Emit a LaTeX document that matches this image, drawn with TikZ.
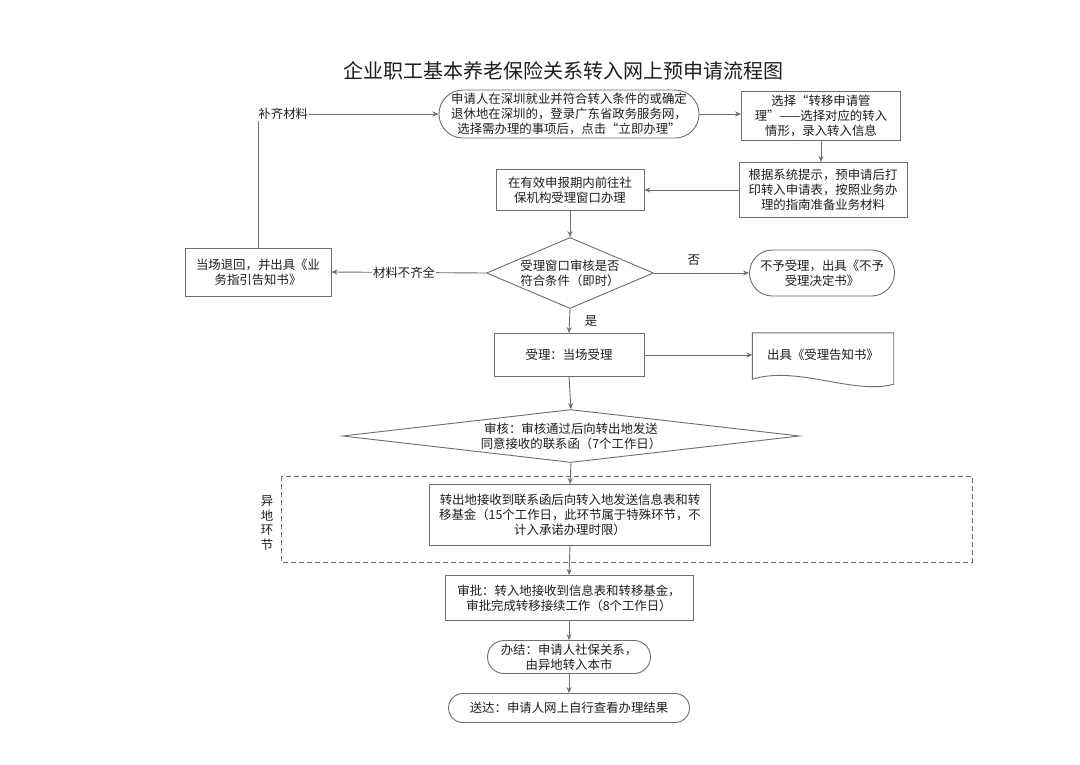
\documentclass[tikz,border=0pt]{standalone}
\usepackage{fontspec}
\setmainfont{Noto Sans CJK SC}
\usetikzlibrary{shapes.geometric,shapes.misc,arrows.meta}
\definecolor{ln}{RGB}{110,110,110}
\definecolor{tx}{RGB}{30,30,30}
\tikzset{
  base/.style={draw=ln, line width=0.9pt, text=tx, align=center, inner sep=0pt, font=\fontsize{12.4}{15}\selectfont},
  boxnode/.style={base, rectangle},
  pillnode/.style={base, rounded rectangle},
  docnode/.style={text=tx, align=center, inner sep=0pt, font=\fontsize{12.4}{15}\selectfont},
  conn/.style={draw=ln, line width=0.9pt, -{Stealth[length=6pt,width=5pt]}},
  lbl/.style={text=tx, font=\fontsize{12.4}{14}\selectfont, inner sep=1pt}
}
\begin{document}
\begin{tikzpicture}[x=1pt,y=-1pt]
\useasboundingbox[fill=white] (0,0) rectangle (1080,764);
\node[text=tx, font=\fontsize{20}{23}\selectfont] (title) at (563,71) {企业职工基本养老保险关系转入网上预申请流程图};

\node[pillnode, minimum width=256pt, minimum height=48pt] (A) at (569,114) {申请人在深圳就业并符合转入条件的或确定\\退休地在深圳的，登录广东省政务服务网，\\选择需办理的事项后，点击“立即办理”};
\node[boxnode, minimum width=159pt, minimum height=49pt] (B) at (821,116) {选择“转移申请管\\理”——选择对应的转入\\情形，录入转入信息};
\node[boxnode, minimum width=168pt, minimum height=55pt] (C) at (823,190) {根据系统提示，预申请后打\\印转入申请表，按照业务办\\理的指南准备业务材料};
\node[boxnode, minimum width=148pt, minimum height=41pt] (D) at (570,190) {在有效申报期内前往社\\保机构受理窗口办理};
\node[base, diamond, minimum width=167pt, minimum height=71pt, inner sep=0pt] (E) at (570,273) {};
\node[docnode] at (E.center) {受理窗口审核是否\\符合条件（即时）};
\node[boxnode, minimum width=146pt, minimum height=48pt] (F) at (258,272) {当场退回，并出具《业\\务指引告知书》};
\node[pillnode, minimum width=145pt, minimum height=46pt] (G) at (822,273) {不予受理，出具《不予\\受理决定书》};
\node[boxnode, minimum width=150pt, minimum height=43pt] (H) at (569,355) {受理：当场受理};
\node[docnode, minimum width=141pt, minimum height=44pt] (I) at (823,355) {出具《受理告知书》};
\draw[ln, line width=0.9pt] (I.south west) -- (I.north west) -- (I.north east) -- ([yshift=-7pt]I.south east)
  .. controls ([xshift=-40pt,yshift=-18pt]I.south east) and ([xshift=45pt,yshift=12pt]I.south west) .. ([yshift=-2pt]I.south west) -- cycle;
\node[base, diamond, minimum width=457pt, minimum height=53pt] (J) at (571,436) {};
\node[docnode] at (J.center) {审核：审核通过后向转出地发送\\同意接收的联系函（7个工作日）};
\draw[ln, line width=0.8pt, dashed, dash pattern=on 5pt off 3pt] (281,476) rectangle (972,562);
\node[text=tx, align=center, font=\fontsize{12.4}{14.5}\selectfont] (yd) at (267,523) {异\\地\\环\\节};
\node[boxnode, minimum width=281pt, minimum height=61pt] (K) at (570,515) {转出地接收到联系函后向转入地发送信息表和转\\移基金（15个工作日，此环节属于特殊环节，不\\计入承诺办理时限）};
\node[boxnode, minimum width=248pt, minimum height=45pt] (L) at (569,598) {审批：转入地接收到信息表和转移基金，\\审批完成转移接续工作（8个工作日）};
\node[pillnode, minimum width=163pt, minimum height=33pt] (M) at (569,657) {办结：申请人社保关系，\\由异地转入本市};
\node[pillnode, minimum width=241pt, minimum height=29pt] (N) at (569,708) {送达：申请人网上自行查看办理结果};

\draw[conn] (A.east) -- (A.east -| B.west);
\draw[conn] (B.south) -- (B.south |- C.north);
\draw[conn] (C.west) -- (D.east);
\draw[conn] (D.south) -- (E.north);
\draw[conn] (E.west) -- node[lbl, fill=white, pos=0.53] {材料不齐全} (F.east);
\draw[conn] (E.east) -- node[lbl, above=6pt, pos=0.42] {否} (G.west);
\draw[conn] (E.south) -- node[lbl, right=14pt, pos=0.5] {是} (H.north);
\draw[conn] (H.east) -- (H.east -| I.west);
\draw[conn] (H.south) -- (J.north);
\draw[conn] (J.south) -- (K.north);
\draw[conn] (K.south) -- (L.north);
\draw[conn] (L.south) -- (M.north);
\draw[conn] (M.south) -- (N.north);
\coordinate (corner) at (F.north |- A.west);
\draw[conn] (F.north) -- (corner) -- node[lbl, fill=white, pos=0.14] {补齐材料} (A.west);
\end{tikzpicture}
\end{document}
